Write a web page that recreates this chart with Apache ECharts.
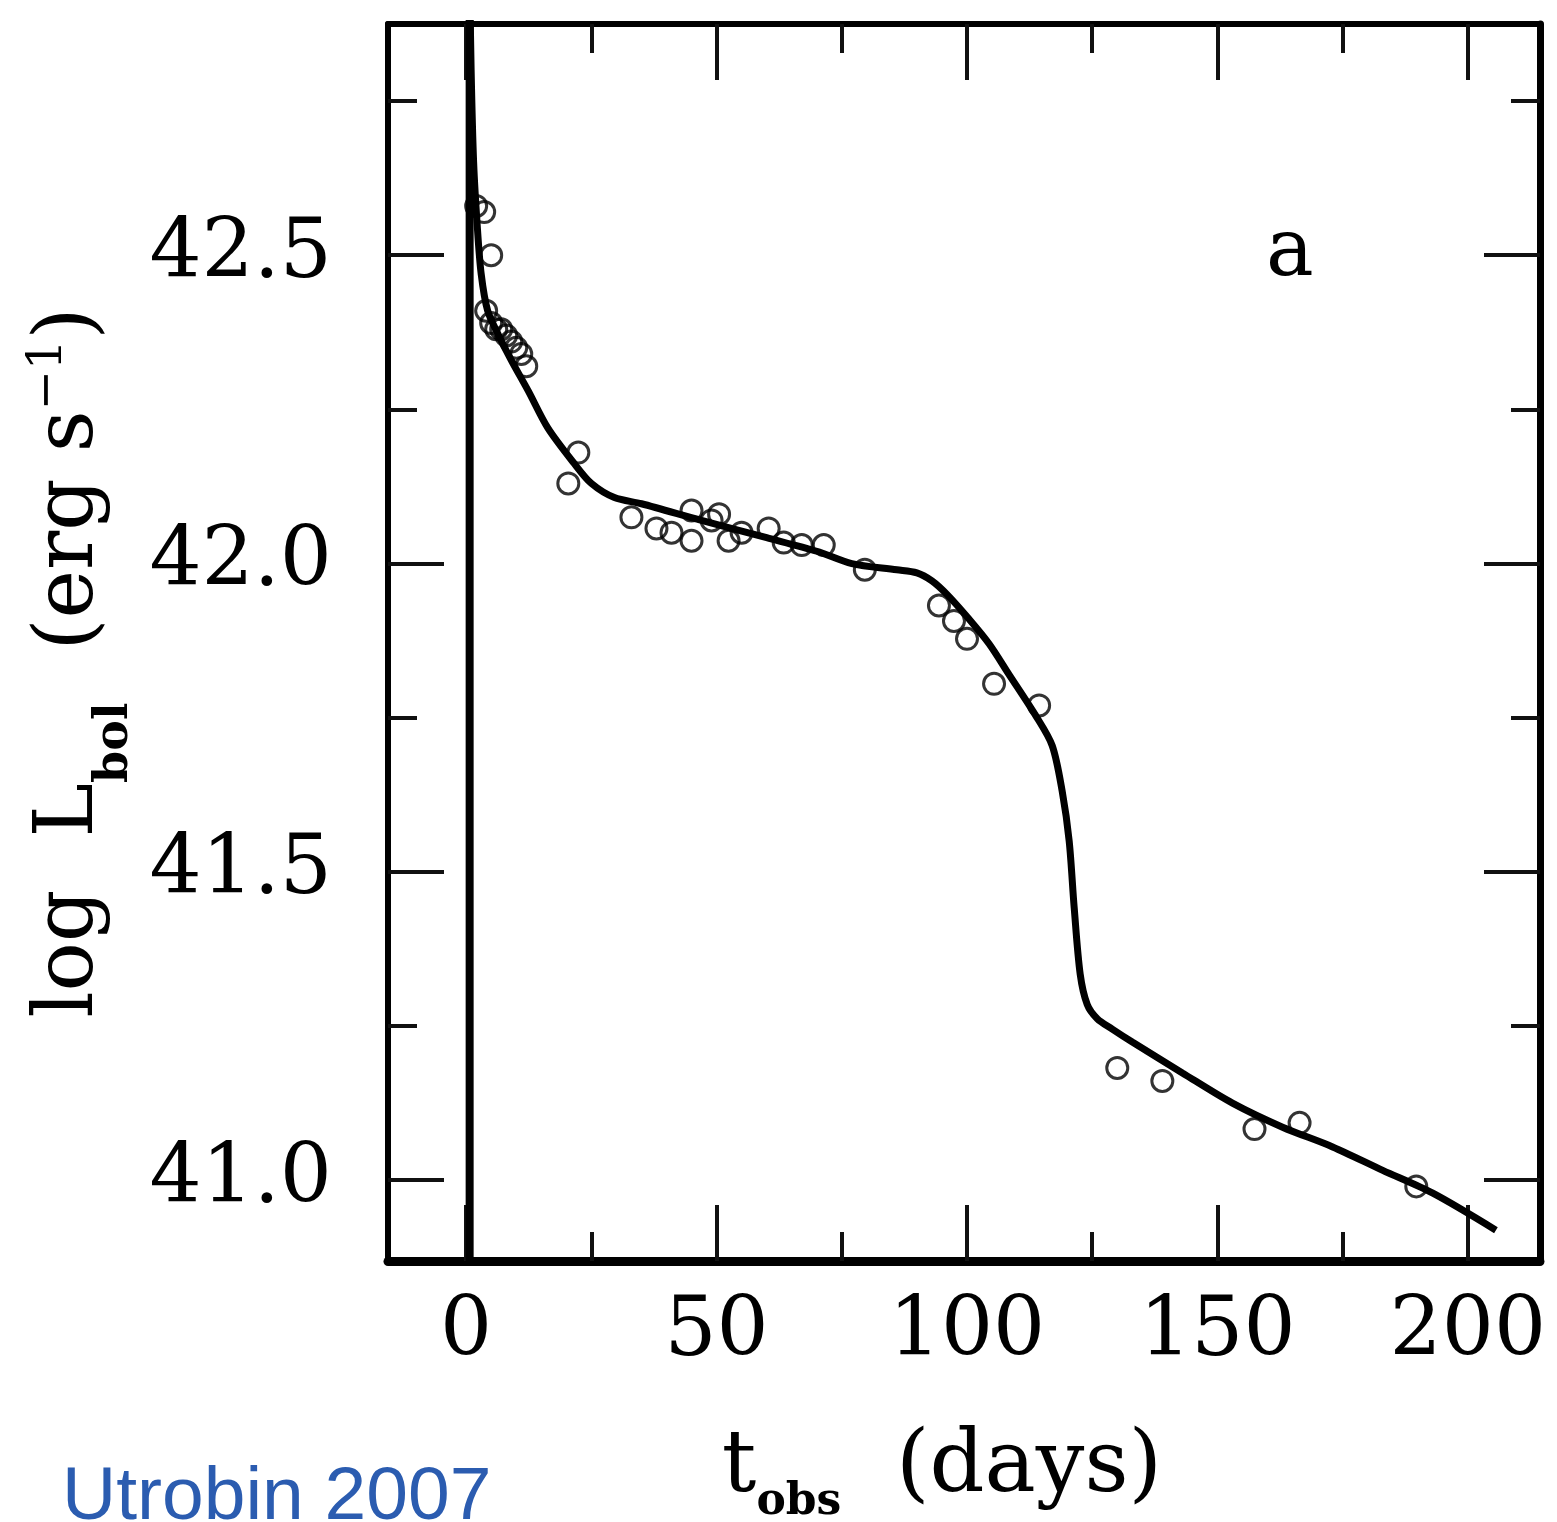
<!DOCTYPE html>
<html>
<head>
<meta charset="utf-8">
<script src="https://cdn.jsdelivr.net/npm/echarts@6/dist/echarts.min.js"></script>
<style>
  html, body { margin: 0; padding: 0; background: #fff; }
  #chart { width: 1557px; height: 1522px; }
</style>
</head>
<body>
<div id="chart"></div>
<script>
// ---- data ----
const obsDays = [2.0, 3.6, 5.0, 4.0, 5.0, 6.0, 7.0, 8.0, 9.0, 10.0, 11.0, 12.0, 22.4, 20.4, 33.0, 38.0, 41.0, 45.0, 45.0, 49.0, 50.5, 52.4, 55.0, 60.4, 63.4, 67.0, 71.4, 79.6, 94.4, 97.4, 100.0, 105.4, 114.4, 130.0, 139.0, 157.4, 166.4, 189.7];
const obsLum  = [42.58, 42.57, 42.50, 42.41, 42.39, 42.38, 42.38, 42.37, 42.36, 42.35, 42.34, 42.32, 42.18, 42.13, 42.075, 42.057, 42.05, 42.086, 42.037, 42.07, 42.08, 42.037, 42.05, 42.057, 42.034, 42.03, 42.03, 41.99, 41.932, 41.907, 41.878, 41.805, 41.77, 41.182, 41.161, 41.083, 41.093, 40.99];

const modelDays = [0.6, 1.0, 1.5, 2.2, 3.0, 4.3, 6.5, 9.0, 12.4, 16.3, 21.6, 25.0, 29.6, 35.0, 47.0, 60.0, 70.0, 77.0, 86.0, 90.0, 93.0, 96.0, 100.4, 104.4, 108.4, 113.6, 117.0, 119.0, 120.4, 121.4, 122.6, 124.0, 126.0, 129.0, 133.0, 143.0, 153.0, 163.0, 173.0, 183.0, 193.0, 205.6];
const modelLum  = [43.00, 42.80, 42.65, 42.55, 42.47, 42.41, 42.37, 42.33, 42.28, 42.22, 42.162, 42.13, 42.107, 42.097, 42.07, 42.042, 42.02, 42.0, 41.99, 41.985, 41.972, 41.95, 41.91, 41.87, 41.82, 41.755, 41.705, 41.631, 41.55, 41.442, 41.334, 41.285, 41.262, 41.245, 41.224, 41.174, 41.125, 41.086, 41.054, 41.016, 40.979, 40.919];

const breakoutDays = [0.7, 0.7];
const breakoutLum  = [40.5, 43.2];

const xMajor = [0, 50, 100, 150, 200];
const xMinor = [25, 75, 125, 175];
const yMajor = [41.0, 41.5, 42.0, 42.5];
const yMinor = [41.25, 41.75, 42.25, 42.75];

const xRange = [-15.6, 214.4];
const yRange = [40.869, 42.875];

// ---- build ----
const zip = (a, b) => a.map((v, i) => [v, b[i]]);
const SERIF = '"DejaVu Serif", "Liberation Serif", serif';
const INK = '#000';

function xAxisDef(pos, ticks, len, withLabels, lineW) {
  return {
    type: 'value', position: pos, min: xRange[0], max: xRange[1],
    axisLine: { show: lineW > 0, onZero: false, lineStyle: { color: INK, width: lineW } },
    axisTick: { show: true, inside: true, length: len, customValues: ticks, lineStyle: { color: '#111', width: 4 } },
    axisLabel: withLabels ? { show: true, customValues: ticks, margin: 32, fontFamily: SERIF, fontSize: 82, color: INK, formatter: v => String(v) } : { show: false },
    splitLine: { show: false }
  };
}
function yAxisDef(pos, ticks, len, withLabels, lineW) {
  return {
    type: 'value', position: pos, min: yRange[0], max: yRange[1],
    axisLine: { show: lineW > 0, onZero: false, lineStyle: { color: INK, width: lineW } },
    axisTick: { show: true, inside: true, length: len, customValues: ticks, lineStyle: { color: '#111', width: 4 } },
    axisLabel: withLabels ? { show: true, customValues: ticks, margin: 56, fontFamily: SERIF, fontSize: 82, color: INK, formatter: v => v.toFixed(1) } : { show: false },
    splitLine: { show: false }
  };
}

const xAxes = [
  xAxisDef('bottom', xMajor, 56, true, 9),
  xAxisDef('bottom', xMinor, 29, false, 0),
  xAxisDef('top', xMajor, 56, false, 6),
  xAxisDef('top', xMinor, 29, false, 0)
];
xAxes[0].name = 't{sub|obs}  (days)';
xAxes[0].nameLocation = 'middle';
xAxes[0].nameGap = 160;
xAxes[0].nameTextStyle = {
  fontFamily: SERIF, fontSize: 86, color: INK, lineHeight: 96, padding: [0, 44, 0, 0],
  rich: { sub: { fontFamily: SERIF, fontSize: 44, fontWeight: 'bold', color: INK, lineHeight: 40, verticalAlign: 'bottom', padding: [0, 0, -8, 0] } }
};

const yAxes = [
  yAxisDef('left', yMajor, 56, true, 6),
  yAxisDef('left', yMinor, 29, false, 0),
  yAxisDef('right', yMajor, 56, false, 7),
  yAxisDef('right', yMinor, 29, false, 0)
];
yAxes[0].name = 'log  L{sub|bol}  (erg s{sup|−1})';
yAxes[0].nameLocation = 'middle';
yAxes[0].nameGap = 258;
yAxes[0].nameRotate = 90;
yAxes[0].nameTextStyle = {
  fontFamily: SERIF, fontSize: 82, color: INK, lineHeight: 92, padding: [0, 40, 0, 0],
  rich: {
    sub: { fontFamily: SERIF, fontSize: 46, fontWeight: 'bold', color: INK, lineHeight: 40, verticalAlign: 'bottom', padding: [0, 0, -22, 0] },
    sup: { fontFamily: SERIF, fontSize: 48, color: INK, lineHeight: 48, verticalAlign: 'top' }
  }
};

const option = {
  backgroundColor: '#fff',
  animation: false,
  grid: { left: 388, right: 17, top: 24, bottom: 261, show: false, outerBoundsMode: 'none', containLabel: false },
  xAxis: xAxes,
  yAxis: yAxes,
  graphic: [
    { type: 'text', left: 1266, top: 214, style: { text: 'a', font: '80px ' + SERIF, fill: INK } },
    { type: 'text', left: 62, top: 1461, style: { text: 'Utrobin 2007', font: '75px "Liberation Sans", Arial, sans-serif', fill: '#2b5cb0' } }
  ],
  series: [
    {
      name: 'observed', type: 'scatter', xAxisIndex: 0, yAxisIndex: 0,
      data: zip(obsDays, obsLum), symbol: 'circle', symbolSize: 21,
      itemStyle: { color: 'rgba(0,0,0,0)', borderColor: '#000', borderWidth: 3 }, z: 2
    },
    {
      name: 'model', type: 'line', xAxisIndex: 0, yAxisIndex: 0,
      data: zip(modelDays, modelLum), showSymbol: false, smooth: 0.3,
      lineStyle: { color: INK, width: 7 }, z: 3
    },
    {
      name: 'breakout', type: 'line', xAxisIndex: 0, yAxisIndex: 0,
      data: zip(breakoutDays, breakoutLum), showSymbol: false,
      lineStyle: { color: INK, width: 8 }, z: 3
    }
  ]
};

const chart = echarts.init(document.getElementById('chart'), null, { renderer: 'canvas' });
chart.setOption(option);
</script>
</body>
</html>
